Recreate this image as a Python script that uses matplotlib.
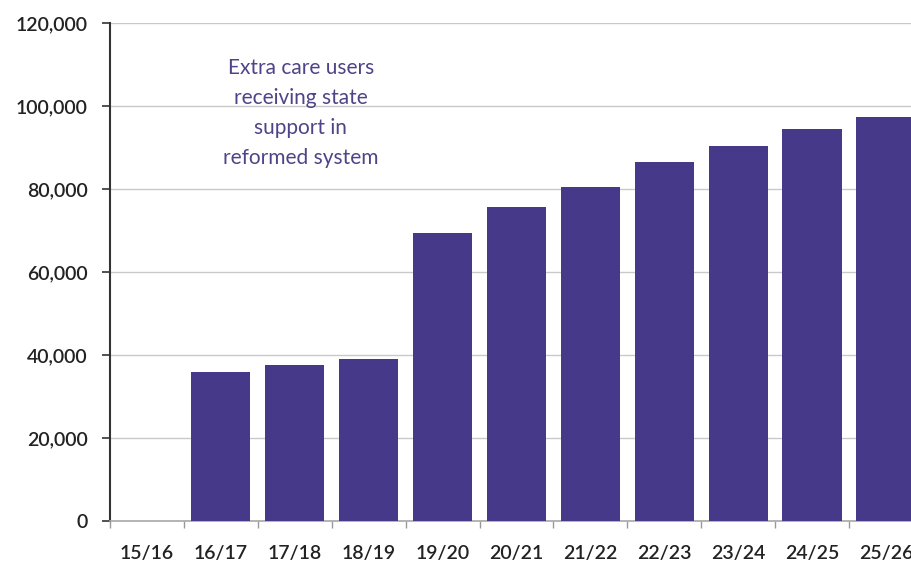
import matplotlib
matplotlib.use("Agg")
import matplotlib.pyplot as plt
from matplotlib.ticker import FuncFormatter, FixedLocator

years = ["15/16", "16/17", "17/18", "18/19", "19/20", "20/21",
         "21/22", "22/23", "23/24", "24/25", "25/26"]
users = [0, 35800, 37500, 39100, 69300, 75600, 80400, 86500, 90400, 94400, 97300]
y_ticks = [0, 20000, 40000, 60000, 80000, 100000, 120000]

bar_color = "#46398A"
text_color = "#4E4488"

plt.rcParams["font.family"] = ["Lato", "DejaVu Sans"]

W, H = 912, 567
fig = plt.figure(figsize=(W / 100, H / 100), dpi=100)
left, bottom, top = 110, 521, 23
cat_w = 73.9
ax = fig.add_axes([left / W, 1 - bottom / H, len(years) * cat_w / W, (bottom - top) / H])

x = list(range(len(years)))
ax.bar(x, users, width=0.8, color=bar_color, zorder=3)

ax.set_xlim(-0.5, len(years) - 0.5)
ax.set_ylim(0, 120000)
ax.set_yticks(y_ticks)
ax.yaxis.set_major_formatter(FuncFormatter(lambda v, p: f"{int(v):,}"))
ax.grid(axis="y", color="#C9C9C9", linewidth=1.0, zorder=0)

ax.set_xticks(x)
ax.set_xticklabels(years)
ax.xaxis.set_minor_locator(FixedLocator([i - 0.5 for i in range(len(years) + 1)]))
ax.tick_params(axis="x", which="major", length=0, pad=17, labelsize=14, labelcolor="#222222")
ax.tick_params(axis="x", which="minor", length=5, color="#999999", width=1)
ax.tick_params(axis="y", length=6, width=1.2, color="#333333", pad=10, labelsize=14,
               labelcolor="#222222")
for lbl in ax.get_xticklabels() + ax.get_yticklabels():
    lbl.set_fontweight("semibold")

for s in ["top", "right"]:
    ax.spines[s].set_visible(False)
ax.spines["left"].set_color("#333333")
ax.spines["left"].set_linewidth(1.5)
ax.spines["bottom"].set_color("#A8A8A8")
ax.spines["bottom"].set_linewidth(1.2)

ax.text(2.08, 98400, "Extra care users\nreceiving state\nsupport in\nreformed system",
        ha="center", va="center", color=text_color, fontsize=15, linespacing=1.62,
        zorder=4)

fig.savefig("out.png", dpi=100)
